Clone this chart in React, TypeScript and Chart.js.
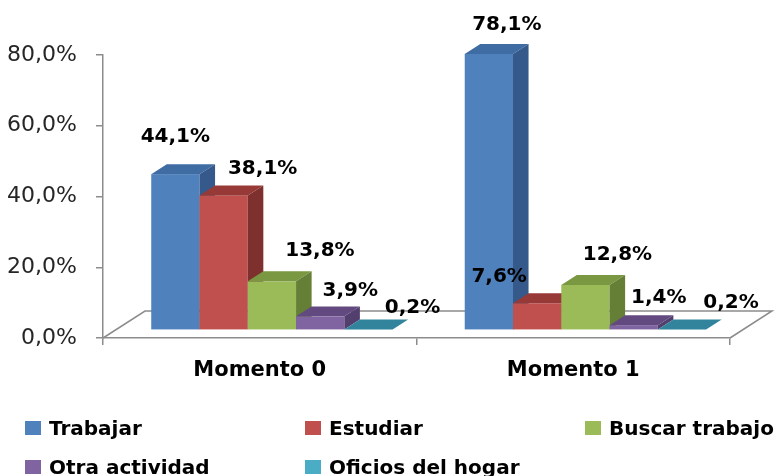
import React, { useEffect, useRef } from 'react';
import { Chart, registerables } from 'chart.js';
Chart.register(...registerables);

// ---- data ----
const categories = ['Momento 0', 'Momento 1'];
const seriesNames = ['Trabajar', 'Estudiar', 'Buscar trabajo', 'Otra actividad', 'Oficios del hogar'];
const trabajar = [44.1, 78.1];
const estudiar = [38.1, 7.6];
const buscarTrabajo = [13.8, 12.8];
const otraActividad = [3.9, 1.4];
const oficiosHogar = [0.2, 0.2];
const yTickValues = [0, 20, 40, 60, 80];

// ---- style ----
const frontColors = ['#4F81BD', '#C0504D', '#9BBB59', '#8064A2', '#4BACC6'];
const topColors = ['#3E6CA3', '#973A37', '#7A9741', '#624A80', '#31849B'];
const sideColors = ['#35598A', '#7E302E', '#667F36', '#533F6D', '#2B7387'];
// label nudges (px) relative to the top-center of each bar's front face, per series per category
const labelNudges = [
  [[0, -37], [18, -29]],
  [[39, -27], [-38, -26]],
  [[48, -31], [32, -30]],
  [[30, -26], [25, -27]],
  [[44, -22], [49, -27]],
];

const FLOOR_DX = 42;
const FLOOR_DY = -27;
const BAR_FRONT = 0.29;
const BAR_DEPTH = 0.37;
const AXIS_COLOR = '#8C8C8C';

const fmt = (v: number) => v.toFixed(1).replace('.', ',') + '%';

const threeD = {
  id: 'threeD',
  beforeDatasetsDraw(chart: any) {
    const { ctx, chartArea: a } = chart;
    ctx.save();
    ctx.strokeStyle = AXIS_COLOR;
    ctx.lineWidth = 1.5;
    ctx.beginPath();
    ctx.moveTo(a.left, a.bottom);
    ctx.lineTo(a.left + FLOOR_DX, a.bottom + FLOOR_DY);
    ctx.lineTo(a.right + FLOOR_DX, a.bottom + FLOOR_DY);
    ctx.lineTo(a.right, a.bottom);
    ctx.stroke();
    ctx.restore();
  },
  afterDatasetsDraw(chart: any) {
    const { ctx } = chart;
    const ox = FLOOR_DX * BAR_FRONT, oy = FLOOR_DY * BAR_FRONT;
    const bx = FLOOR_DX * BAR_DEPTH, by = FLOOR_DY * BAR_DEPTH;
    ctx.save();
    const nDs = chart.data.datasets.length;
    for (let i = 0; i < categories.length; i++) {
      for (let d = 0; d < nDs; d++) {
        const el = chart.getDatasetMeta(d).data[i];
        const { x, y, base, width } = el.getProps(['x', 'y', 'base', 'width'], true);
        const l = x - width / 2 + ox, r = x + width / 2 + ox;
        const t = y + oy, b = base + oy;
        ctx.fillStyle = frontColors[d];
        ctx.fillRect(l, t, r - l, b - t);
        ctx.fillStyle = topColors[d];
        ctx.beginPath();
        ctx.moveTo(l, t); ctx.lineTo(r, t); ctx.lineTo(r + bx, t + by); ctx.lineTo(l + bx, t + by);
        ctx.closePath(); ctx.fill();
        ctx.fillStyle = sideColors[d];
        ctx.beginPath();
        ctx.moveTo(r, t); ctx.lineTo(r + bx, t + by); ctx.lineTo(r + bx, b + by); ctx.lineTo(r, b);
        ctx.closePath(); ctx.fill();
      }
    }
    ctx.fillStyle = '#000';
    ctx.font = 'bold 20px "DejaVu Sans"';
    ctx.textAlign = 'center';
    ctx.textBaseline = 'middle';
    for (let d = 0; d < nDs; d++) {
      const ds = chart.data.datasets[d];
      for (let i = 0; i < categories.length; i++) {
        const el = chart.getDatasetMeta(d).data[i];
        const { x, y } = el.getProps(['x', 'y'], true);
        const [nx, ny] = labelNudges[d][i];
        ctx.fillText(fmt(ds.data[i]), x + ox + nx, y + oy + ny);
      }
    }
    ctx.restore();
  },
};

export default function App() {
  const ref = useRef<HTMLCanvasElement>(null);
  useEffect(() => {
    if (!ref.current) return;
    const seriesData = [trabajar, estudiar, buscarTrabajo, otraActividad, oficiosHogar];
    const chart = new Chart(ref.current, {
      type: 'bar',
      data: {
        labels: categories,
        datasets: seriesNames.map((n, k) => ({
          label: n,
          data: seriesData[k],
          backgroundColor: 'rgba(0,0,0,0)',
          borderWidth: 0,
          categoryPercentage: 0.77,
          barPercentage: 1.0,
        })),
      },
      options: {
        responsive: false,
        animation: false,
        layout: { padding: { top: 55, right: 49, bottom: 88, left: 0 } },
        plugins: { legend: { display: false }, tooltip: { enabled: false }, title: { display: false } },
        scales: {
          x: {
            ticks: { font: { family: 'DejaVu Sans', size: 21, weight: 'bold' }, color: '#000', padding: 13 },
            grid: { offset: true, drawOnChartArea: false, drawTicks: true, tickLength: 7, color: AXIS_COLOR, lineWidth: 1.5 },
            border: { display: true, color: AXIS_COLOR, width: 1.5 },
            afterFit: (s: any) => { s.height = 50; },
          },
          y: {
            min: 0,
            max: 80,
            afterBuildTicks: (s: any) => { s.ticks = yTickValues.map((v) => ({ value: v })); },
            ticks: {
              callback: (v: any) => fmt(Number(v)),
              font: { family: 'DejaVu Sans', size: 22 },
              color: '#262626',
              padding: 19,
            },
            grid: { drawOnChartArea: false, drawTicks: true, tickLength: 7, color: AXIS_COLOR, lineWidth: 1.5 },
            border: { display: true, color: AXIS_COLOR, width: 1.5 },
            afterFit: (s: any) => { s.width = 103; },
          },
        },
      },
      plugins: [threeD],
    });
    return () => chart.destroy();
  }, []);

  const legendRows = [[0, 1, 2], [3, 4]];
  return (
    <div style={{ position: 'fixed', left: 0, top: 0, width: 779, height: 476, background: '#fff' }}>
      <canvas ref={ref} width={779} height={476} style={{ width: 779, height: 476, display: 'block' }} />
      {legendRows.map((row, r) =>
        row.map((k, c) => (
          <div
            key={k}
            style={{
              position: 'absolute',
              left: 25 + c * 280,
              top: 428 + r * 39 - 14,
              height: 28,
              display: 'flex',
              alignItems: 'center',
              fontFamily: '"DejaVu Sans"',
              fontWeight: 'bold',
              fontSize: 20,
              color: '#000',
              whiteSpace: 'nowrap',
            }}
          >
            <span style={{ display: 'inline-block', width: 16, height: 14, background: frontColors[k], marginRight: 8 }} />
            <span>{seriesNames[k]}</span>
          </div>
        ))
      )}
    </div>
  );
}
